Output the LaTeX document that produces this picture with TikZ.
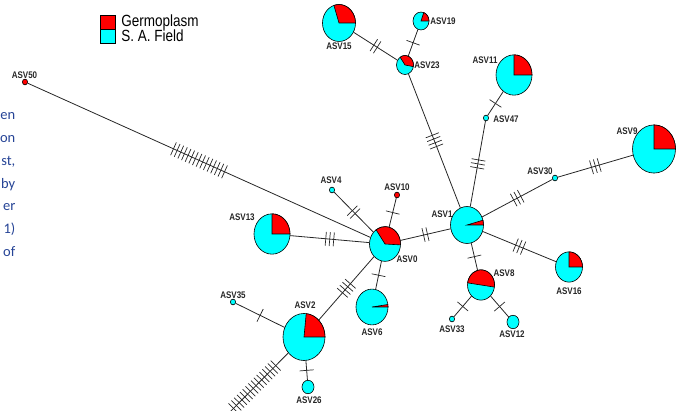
\documentclass[tikz,border=0pt]{standalone}
\usepackage{fontspec}
\usepackage{graphicx}
\setmainfont{Liberation Sans}
\newfontfamily\docfont{Carlito}
\usetikzlibrary{positioning,shapes.geometric,decorations.markings}

\definecolor{fieldcyan}{RGB}{0,255,255}
\definecolor{germred}{RGB}{255,0,0}
\definecolor{docblue}{RGB}{38,68,150}

% red share of a haplotype: node, x radius, start angle, end angle
\newcommand{\germslice}[4]{%
  \filldraw[fill=germred, draw=black, line width=0.6pt] (#1.center) -- ++(#3:#2 and 1.12*#2)
    arc[start angle=#3, end angle=#4, x radius=#2, y radius=1.12*#2] -- cycle;}
% the figure is a little stretched upwards
\newcommand{\tall}[1]{\scalebox{1}[1.2]{#1}}

\tikzset{
  hap/.style={ellipse, draw=black, line width=0.6pt, fill=fieldcyan, inner sep=0pt,
    minimum width={2*#1}, minimum height={2.24*#1}},
  asv/.style={font=\bfseries\fontsize{8}{9}\selectfont, text=black!85, inner sep=0pt},
  link/.style={draw=black!85, line width=0.8pt},
  mut/.style={postaction={decorate, decoration={markings, mark=at position 0.5 with {
    \foreach \k in {1,...,#1}
      \draw[black!85, line width=0.7pt] ({(\k-(#1+1)/2)*4},-7) -- ({(\k-(#1+1)/2)*4},7);}}}},
  keybox/.style={draw=black, line width=0.5pt, minimum width=15, minimum height=14, inner sep=0pt},
  keytext/.style={font=\fontsize{13.5}{14}\selectfont, inner sep=0pt}
}

\begin{document}
\begin{tikzpicture}[x=1pt, y=1pt]
  \useasboundingbox (0,0) rectangle (677,-411);
  \clip (0,0) rectangle (677,-411);

  % legend
  \node[keybox, fill=germred] (keygerm) at (107.5,-22) {};
  \node[keybox, fill=fieldcyan] (keyfield) at (107.5,-36) {};
  \node[keytext, right=6 of keygerm] (txtgerm) {\tall{Germoplasm}};
  \node[keytext, right=6 of keyfield] (txtfield) {\tall{S. A. Field}};

  % cut text of the page
  \node[text=docblue, font=\docfont\fontsize{14.5}{22.7}\selectfont, align=right, anchor=north east, inner sep=0pt]
    (pagetext) at (15.5,-112.7) {en\\on\\st,\\by\\er\\1)\\of};

  % haplotypes
  \node[hap=15.5] (ASV0) at (385,-244) {};
  \node[hap=16.5] (ASV1) at (467,-225) {};
  \node[hap=21] (ASV2) at (304,-337) {};
  \node[hap=2.6] (ASV4) at (332,-190) {};
  \node[hap=16] (ASV6) at (372,-307) {};
  \node[hap=13.5] (ASV8) at (481,-285) {};
  \node[hap=21.5] (ASV9) at (654,-149) {};
  \node[hap=2.6, fill=germred] (ASV10) at (397,-195) {};
  \node[hap=18] (ASV11) at (514,-75) {};
  \node[hap=6] (ASV12) at (513,-322) {};
  \node[hap=18] (ASV13) at (272,-234) {};
  \node[hap=16.5] (ASV15) at (339,-23) {};
  \node[hap=13.5] (ASV16) at (569,-267) {};
  \node[hap=8] (ASV19) at (421,-21) {};
  \node[hap=8.5] (ASV23) at (405,-65) {};
  \node[hap=6] (ASV26) at (308,-387) {};
  \node[hap=2.6] (ASV30) at (555,-178) {};
  \node[hap=2.6] (ASV33) at (452,-319) {};
  \node[hap=2.6] (ASV35) at (233,-302) {};
  \node[hap=2.6] (ASV47) at (486,-118) {};
  \node[hap=2.6, fill=germred] (ASV50) at (25,-82) {};
  \coordinate (ASV2cut) at (221,-421);

  \foreach \source/\dest/\n in {ASV50/ASV0/15, ASV13/ASV0/3, ASV4/ASV0/2, ASV10/ASV0/1,
      ASV0/ASV1/2, ASV0/ASV6/1, ASV0/ASV2/4, ASV2/ASV35/1, ASV2/ASV26/1, ASV2/ASV2cut/16,
      ASV1/ASV23/4, ASV23/ASV15/2, ASV23/ASV19/1, ASV1/ASV47/3, ASV47/ASV11/1,
      ASV1/ASV30/3, ASV30/ASV9/3, ASV1/ASV16/3, ASV1/ASV8/1, ASV8/ASV33/1, ASV8/ASV12/1}
    \draw[link, mut=\n] (\source) -- (\dest);

  \germslice{ASV0}{15.5}{-3}{125}
  \germslice{ASV1}{16.5}{0}{15}
  \germslice{ASV2}{21}{0}{84}
  \germslice{ASV6}{16}{0}{8}
  \germslice{ASV8}{13.5}{-8}{172}
  \germslice{ASV9}{21.5}{0}{90}
  \germslice{ASV11}{18}{0}{90}
  \germslice{ASV13}{18}{0}{90}
  \germslice{ASV15}{16.5}{0}{108}
  \germslice{ASV16}{13.5}{0}{90}
  \germslice{ASV19}{8}{0}{70}
  \germslice{ASV23}{8.5}{-10}{125}

  % names
  \node[asv] (lASV0) at (407,-259) {\tall{ASV0}};
  \node[asv] (lASV1) at (442,-214) {\tall{ASV1}};
  \node[asv] (lASV2) at (305,-305) {\tall{ASV2}};
  \node[asv] (lASV4) at (331,-180) {\tall{ASV4}};
  \node[asv] (lASV6) at (372,-332) {\tall{ASV6}};
  \node[asv] (lASV8) at (504,-273) {\tall{ASV8}};
  \node[asv] (lASV9) at (627,-131) {\tall{ASV9}};
  \node[asv] (lASV10) at (397,-187) {\tall{ASV10}};
  \node[asv] (lASV11) at (485,-60) {\tall{ASV11}};
  \node[asv] (lASV12) at (512,-334) {\tall{ASV12}};
  \node[asv] (lASV13) at (242,-217) {\tall{ASV13}};
  \node[asv] (lASV15) at (339,-46) {\tall{ASV15}};
  \node[asv] (lASV16) at (569,-291) {\tall{ASV16}};
  \node[asv] (lASV19) at (443,-21) {\tall{ASV19}};
  \node[asv] (lASV23) at (427,-65) {\tall{ASV23}};
  \node[asv] (lASV26) at (309,-400) {\tall{ASV26}};
  \node[asv] (lASV30) at (540,-171) {\tall{ASV30}};
  \node[asv] (lASV33) at (452,-329) {\tall{ASV33}};
  \node[asv] (lASV35) at (233,-295) {\tall{ASV35}};
  \node[asv] (lASV47) at (506,-119) {\tall{ASV47}};
  \node[asv] (lASV50) at (24.5,-75) {\tall{ASV50}};
\end{tikzpicture}
\end{document}
